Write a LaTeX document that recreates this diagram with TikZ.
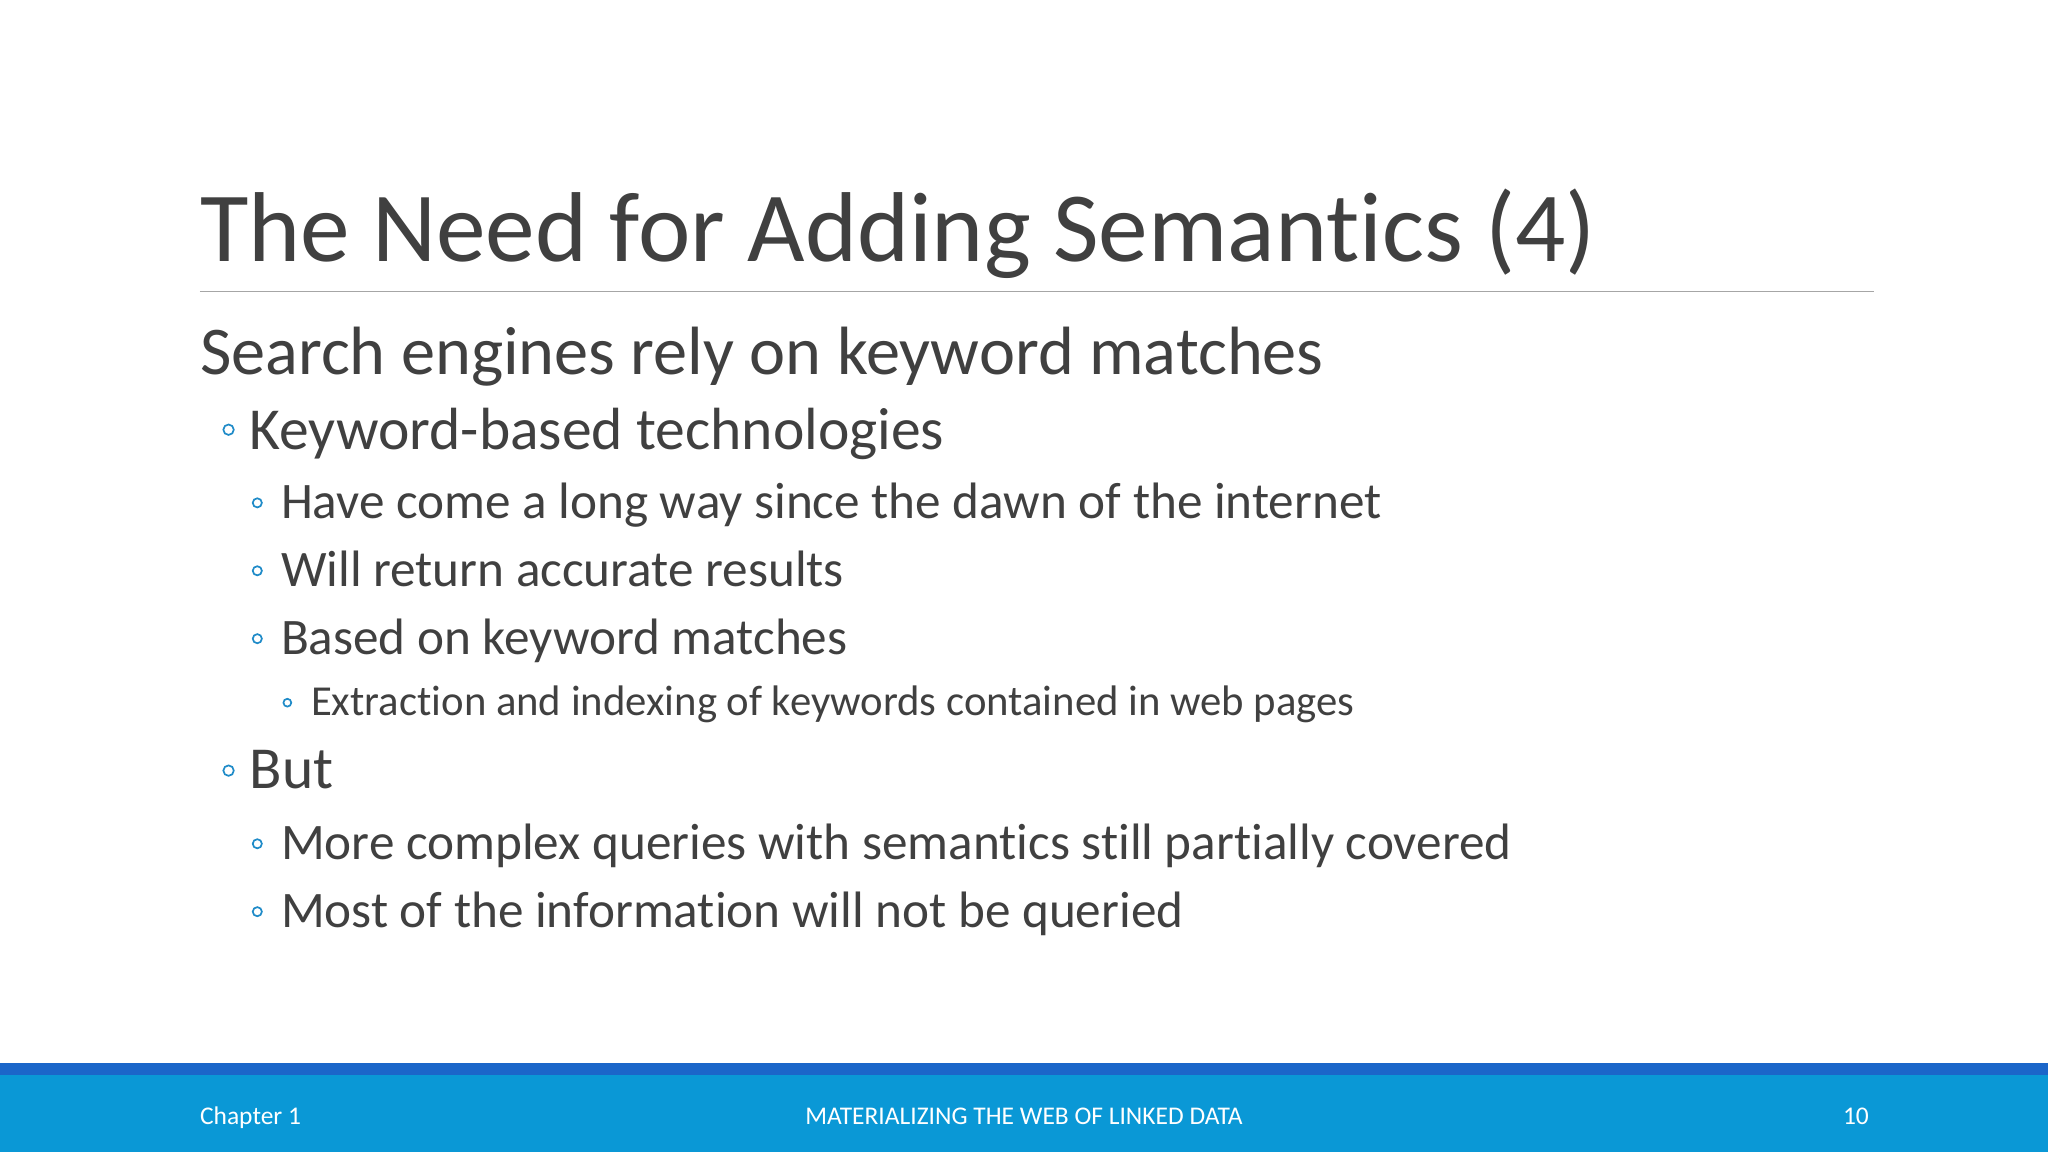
\documentclass[tikz,border=0pt]{standalone}
\usepackage{fontspec}
\setmainfont{Carlito}[Ligatures={NoCommon}]
\definecolor{txt}{HTML}{404040}
\definecolor{bul}{HTML}{1F8BC8}
\definecolor{barA}{HTML}{0A98D6}
\definecolor{barB}{HTML}{1B66C9}
\begin{document}
\begin{tikzpicture}[x=1pt,y=-1pt,
  t/.style={anchor=base west,inner sep=0,text=txt},
  bl/.style={draw=bul,line width=1.3pt,circle,inner sep=0,minimum size=#1}]
\useasboundingbox (0,0) rectangle (1568,882);
\fill[white] (0,0) rectangle (1568,882);
\node[t,font=\fontsize{76}{84}\selectfont] (title) at (153,200) {The Need for Adding Semantics (4)};
\draw[gray!70,line width=1pt] (153,223) -- (1435,223);
\node[t,font=\fontsize{52.3}{60}\selectfont] (l1) at (153,287) {Search engines rely on keyword matches};
\node[t,font=\fontsize{45.6}{52}\selectfont] (l2a) at (191,344) {Keyword-based technologies};
\node[t,font=\fontsize{39.2}{46}\selectfont] (l3a) at (215,397) {Have come a long way since the dawn of the internet};
\node[t,font=\fontsize{39.2}{46}\selectfont] (l3b) at (215,449) {Will return accurate results};
\node[t,font=\fontsize{39.2}{46}\selectfont] (l3c) at (215,501) {Based on keyword matches};
\node[t,font=\fontsize{32.7}{38}\selectfont] (l4a) at (238,548) {Extraction and indexing of keywords contained in web pages};
\node[t,font=\fontsize{45.6}{52}\selectfont] (l2b) at (191,604) {But};
\node[t,font=\fontsize{39.2}{46}\selectfont] (l3d) at (215,658) {More complex queries with semantics still partially covered};
\node[t,font=\fontsize{39.2}{46}\selectfont] (l3e) at (215,710) {Most of the information will not be queried};
\node[bl=8pt] (b2a) at (175,329) {};
\node[bl=7pt] (b3a) at (197,385) {};
\node[bl=7pt] (b3b) at (197,437) {};
\node[bl=7pt] (b3c) at (197,489) {};
\node[bl=6pt] (b4a) at (220,538) {};
\node[bl=8pt] (b2b) at (175,590) {};
\node[bl=7pt] (b3d) at (197,646) {};
\node[bl=7pt] (b3e) at (197,698) {};
\fill[barB] (0,814) rectangle (1568,823);
\fill[barA] (0,823) rectangle (1568,882);
\node[anchor=base west,inner sep=0,text=white,font=\fontsize{19.5}{23}\selectfont] (f1) at (153,861) {Chapter 1};
\node[anchor=base,inner sep=0,text=white,font=\fontsize{19.5}{23}\selectfont] (f2) at (784,861) {MATERIALIZING THE WEB OF LINKED DATA};
\node[anchor=base east,inner sep=0,text=white,font=\fontsize{19.5}{23}\selectfont] (f3) at (1431,861) {10};
\end{tikzpicture}
\end{document}
